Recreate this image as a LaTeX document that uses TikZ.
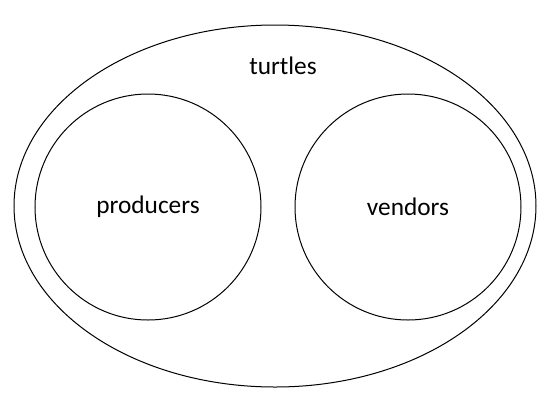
\documentclass[tikz,border=0pt]{standalone}
\usepackage{fontspec}
\setmainfont{Carlito}
\usetikzlibrary{positioning,shapes.geometric}

\begin{document}
\begin{tikzpicture}[%
    x=0.75pt, y=-0.75pt,
    line width=0.75pt,
    set/.style={%
      ellipse,
      draw,
      inner sep=0pt,
      minimum width=391.5pt,
      minimum height=271.5pt
    },
    subset/.style={%
      circle,
      draw,
      inner sep=0pt,
      minimum size=169.5pt,
      font=\fontsize{19}{23}\selectfont
    },
    setlabel/.style={font=\fontsize{19}{23}\selectfont}
  ]
    \useasboundingbox (0,0) rectangle (551,405);

    \node[set] (turtles) at (275,206) {};
    \node[setlabel] (turtleslabel) at (283,66) {turtles};

    \node[subset] (producers) at (148,207) {producers};
    \node[subset] (vendors) at (408,207) {vendors};
  \end{tikzpicture}
\end{document}
